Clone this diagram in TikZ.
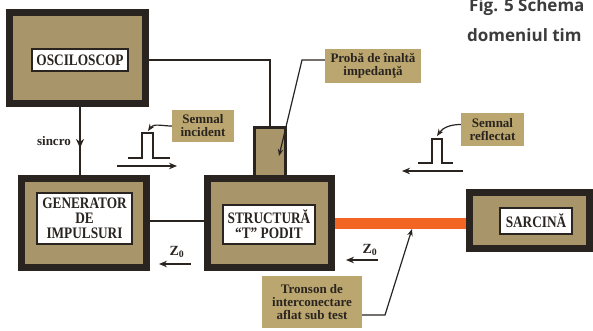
\documentclass[tikz,border=0pt]{standalone}
\usepackage{fontspec}
\setmainfont{Liberation Serif}
\newfontfamily\boxfont[FakeStretch=0.83]{Liberation Serif}
\newfontfamily\figfont{Open Sans}
\usetikzlibrary{arrows.meta,calc}
\pgfdeclarelayer{background}
\pgfdeclarelayer{paper}
\pgfsetlayers{paper,background,main}
\definecolor{boxtan}{HTML}{A8966A}
\definecolor{labtan}{HTML}{BAA66E}
\definecolor{ink}{HTML}{2A2420}
\definecolor{wire}{HTML}{F26522}
\definecolor{figgray}{HTML}{3C3C3C}
\tikzset{
  unitbox/.style={draw=ink, fill=boxtan, line width=7pt, inner sep=0pt},
  namebox/.style={draw=ink, fill=white, line width=1.4pt, inner sep=0pt, align=center,
    font=\boxfont\bfseries\fontsize{16}{15}\selectfont, text=ink},
  tagbox/.style={fill=labtan, inner sep=0pt, align=center,
    font=\bfseries\fontsize{13}{13}\selectfont, text=ink},
  wireline/.style={draw=ink, line width=2.5pt},
  ptr/.style={draw=ink, line width=1.2pt, -{Stealth[length=7pt,width=5.5pt]}},
  pulseline/.style={draw=ink, line width=1.6pt},
  flow/.style={draw=ink, line width=2pt, -{Stealth[length=8pt,width=6.5pt]}},
  smalltext/.style={font=\bfseries\fontsize{13}{13}\selectfont, text=ink, inner sep=0pt},
}
\begin{document}
\begin{tikzpicture}[x=1pt,y=-1pt]
\useasboundingbox (0,0) rectangle (593,331);
\clip (0,0) rectangle (593,331);
\begin{pgfonlayer}{paper}
\fill[white] (0,0) rectangle (593,331);
\end{pgfonlayer}

% page caption fragment
\node[anchor=base west, inner sep=0pt, font=\figfont\bfseries\fontsize{17}{17}\selectfont, text=figgray] (figa) at (469,12) {Fig. 5 Schema};
\node[anchor=base west, inner sep=0pt, font=\figfont\bfseries\fontsize{17}{17}\selectfont, text=figgray] (figb) at (467,42) {domeniul tim};

% units
\node[unitbox, minimum width=136pt, minimum height=91pt] (osc) at (77.5,58) {};
\node[namebox, minimum width=96pt, minimum height=22pt] (osclab) at (80,60) {OSCILOSCOP};

\node[unitbox, minimum width=125pt, minimum height=89pt] (gen) at (84,223) {};
\node[namebox, minimum width=95pt, minimum height=51pt] (genlab) at (84.5,218.5) {GENERATOR\\DE\\IMPULSURI};

\node[unitbox, minimum width=124pt, minimum height=89pt] (tst) at (269.5,223) {};
\node[namebox, minimum width=92pt, minimum height=39pt] (tstlab) at (269,224.5) {STRUCTURĂ\\“T” PODIT};

\node[draw=ink, fill=boxtan, line width=3pt, inner sep=0pt, minimum width=31pt, minimum height=49pt] (probe) at (270,152) {};

\node[unitbox, minimum width=120pt, minimum height=56pt] (sar) at (529.5,220.5) {};
\node[namebox, minimum width=72pt, minimum height=26pt] (sarlab) at (536,221) {SARCINĂ};

% tags
\node[tagbox, minimum width=62pt, minimum height=32pt] (inc) at (203,126) {Semnal\\incident};
\node[tagbox, minimum width=63pt, minimum height=33pt] (refl) at (492.5,129.5) {Semnal\\reflectat};
\node[tagbox, minimum width=96pt, minimum height=34pt] (prl) at (373,66) {Probă de înaltă\\impedanţă};
\node[tagbox, minimum width=100pt, minimum height=52pt] (tron) at (312,302) {Tronson de\\interconectare\\aflat sub test};

\node[smalltext, anchor=east] (sin) at (71,141) {sincro};
\node[smalltext, font=\bfseries\fontsize{14}{14}\selectfont] (z1) at (177,252) {Z\textsubscript{0}};
\node[smalltext, font=\bfseries\fontsize{14}{14}\selectfont] (z2) at (370,250) {Z\textsubscript{0}};

% connectors behind units
\coordinate (sincroTip) at (80,148);
\begin{pgfonlayer}{background}
\draw[wireline] ($(osc.east)+(0,2)$) -| (probe.north);
\draw[wireline] (osc.south -| sincroTip) -- (gen.north -| sincroTip);
\draw[draw=ink, line width=2.5pt, -{Stealth[length=9pt,width=8pt]}] (osc.south -| sincroTip) -- (sincroTip);
\draw[wireline] ($(gen.east)+(0,-2)$) -- ($(tst.west)+(0,-2)$);
\draw[draw=wire, line width=11pt] (tst.east) -- (tst.east -| sar.west);
\end{pgfonlayer}

% pulses
\coordinate (pinc) at (148,131);
\draw[pulseline] (128,158) -- (142,158) -- (142,133) -- (153,133) -- (153,158) -- (170,158);
\coordinate (fi1) at (117,166);
\coordinate (fi2) at (177,166);
\draw[flow] (fi1) -- (fi2);
\draw[ptr] (inc.west) to[out=180,in=55] (pinc);

\coordinate (pref) at (437,136);
\draw[pulseline] (418,163) -- (432,163) -- (432,139) -- (442,139) -- (442,163) -- (453,163);
\coordinate (fr1) at (463,171);
\coordinate (fr2) at (402,171);
\draw[flow] (fr1) -- (fr2);
\draw[ptr] ($(refl.west)+(0,-5)$) to[out=180,in=55] (pref);

% Z0 arrows
\coordinate (za1) at (191,264);
\coordinate (za2) at (159,264);
\draw[flow] (za1) -- (za2);
\coordinate (zb1) at (378,260);
\coordinate (zb2) at (346,260);
\draw[flow] (zb1) -- (zb2);

% leaders
\coordinate (kp) at (302,60);
\coordinate (tp) at (279,156);
\draw[ptr] ($(prl.west)+(0,-6)$) -- (kp) -- (tp);
\coordinate (kt) at (385,315);
\coordinate (tt) at (412,229);
\draw[ptr] ($(tron.east)+(0,13)$) -- (kt) -- (tt);
\end{tikzpicture}
\end{document}
